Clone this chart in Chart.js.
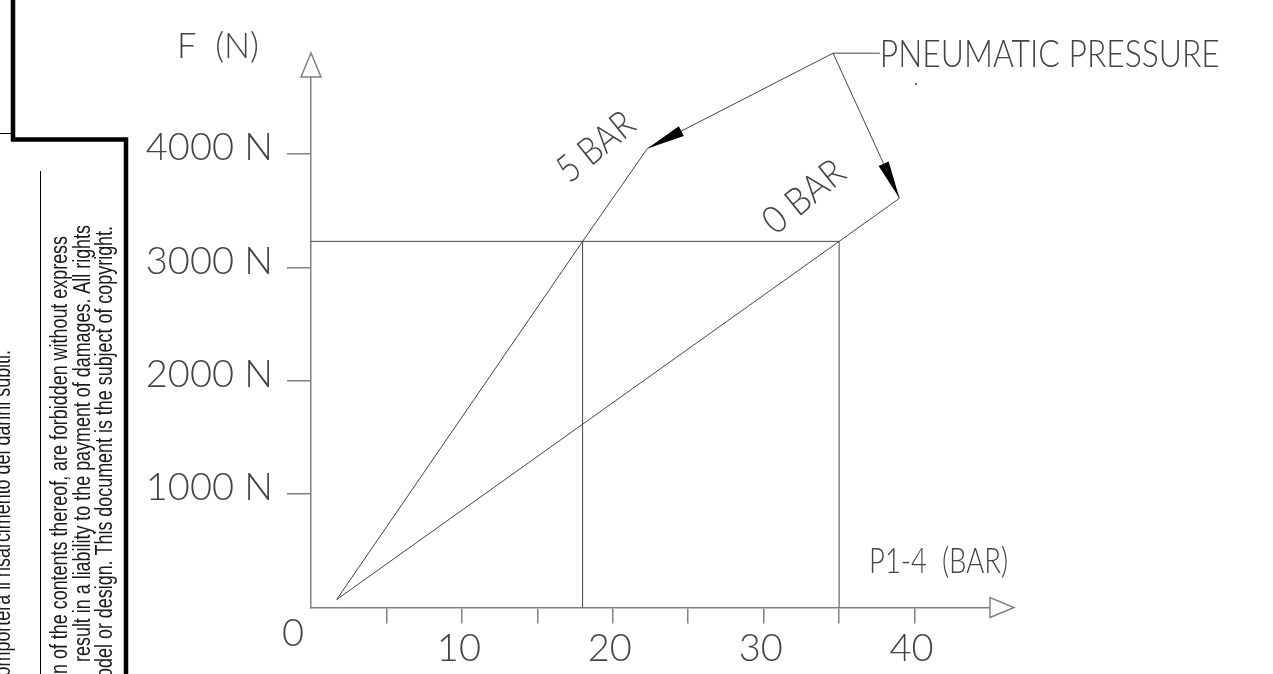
<!DOCTYPE html>
<html>
<head>
<meta charset="utf-8">
<script src="https://cdn.jsdelivr.net/npm/chart.js@4.4.1/dist/chart.umd.min.js"></script>
<style>
  html, body { margin: 0; padding: 0; background: #fff; }
</style>
</head>
<body>
<canvas id="forceChart" width="1273" height="674"></canvas>
<script>
// values
const forceTicks = [1000, 2000, 3000, 4000];           // N
const pressureTicks = [5, 10, 15, 20, 25, 30, 35, 40];  // bar
const pressureLabels = ['', '10', '', '20', '', '30', '', '40'];

const bar5P = [1.7, 18.0, 22.3];
const bar5F = [70, 3230, 4050];
const bar0P = [1.7, 35.0, 39.0];
const bar0F = [70, 3230, 3610];

const refForce = 3230;
const refPressure = [18.0, 35.0];

// leader for the PNEUMATIC PRESSURE note
const leaderP = [34.6, 37.7];
const leaderF = 4890;

const pMax = 45;
const fMax = 4680;

const ink = '#444';
const axisGrey = '#808080';
const cadFont = 'Lato, "DejaVu Sans", sans-serif';

const pts = (xs, ys) => xs.map((x, i) => ({ x: x, y: ys[i] }));

function lineSet(label, data, extra) {
  return Object.assign({
    label: label,
    data: data,
    showLine: true,
    borderColor: ink,
    borderWidth: 1,
    pointRadius: 0,
    tension: 0
  }, extra || {});
}

// stretch/squeeze a text to a given width (CAD fonts are narrow)
function squeezeText(c, str, x, y, w, angle) {
  const k = w ? w / c.measureText(str).width : 1;
  c.save();
  c.translate(x, y);
  if (angle) c.rotate(angle);
  c.scale(k, 1);
  c.fillText(str, 0, 0);
  c.restore();
}

function arrowHead(c, fromX, fromY, toX, toY, len, half) {
  const a = Math.atan2(toY - fromY, toX - fromX);
  c.save();
  c.translate(toX, toY);
  c.rotate(a);
  c.beginPath();
  c.moveTo(0, 0);
  c.lineTo(-len, -half);
  c.lineTo(-len, half);
  c.closePath();
  c.fill();
  c.restore();
}

const drawingPlugin = {
  id: 'drawing',
  afterDraw(chart) {
    const c = chart.ctx;
    const xs = chart.scales.x, ys = chart.scales.y;
    const x0 = xs.getPixelForValue(0), y0 = ys.getPixelForValue(0);
    const xEnd = xs.getPixelForValue(pMax), yEnd = ys.getPixelForValue(fMax);

    // open arrowheads on the axes
    c.save();
    c.strokeStyle = axisGrey;
    c.lineWidth = 1.5;
    c.fillStyle = '#fff';
    c.beginPath();
    c.moveTo(x0 - 10, yEnd);
    c.lineTo(x0 + 10, yEnd);
    c.lineTo(x0, yEnd - 24);
    c.closePath();
    c.fill(); c.stroke();
    c.beginPath();
    c.moveTo(xEnd, y0 - 10);
    c.lineTo(xEnd, y0 + 10);
    c.lineTo(xEnd + 24, y0);
    c.closePath();
    c.fill(); c.stroke();
    c.restore();

    // filled arrows of the note
    const cx = xs.getPixelForValue(leaderP[0]), cy = ys.getPixelForValue(leaderF);
    c.save();
    c.fillStyle = '#000';
    arrowHead(c, cx, cy, xs.getPixelForValue(bar5P[2]), ys.getPixelForValue(bar5F[2]), 38, 5.5);
    arrowHead(c, cx, cy, xs.getPixelForValue(bar0P[2]), ys.getPixelForValue(bar0F[2]), 38, 5.5);
    c.fillStyle = '#666';
    c.fillRect(915, 83, 2, 2);
    c.restore();

    // texts of the drawing
    c.save();
    c.fillStyle = ink;
    c.textBaseline = 'alphabetic';
    c.font = '300 35px ' + cadFont;
    c.textAlign = 'left';
    squeezeText(c, 'F  (N)', x0 - 134, yEnd - 19, 82);
    squeezeText(c, 'P1-4  (BAR)', xEnd - 121, y0 - 35, 139);
    c.font = '300 38px ' + cadFont;
    squeezeText(c, 'PNEUMATIC PRESSURE', xs.getPixelForValue(leaderP[1]), cy + 14, 340);
    c.textAlign = 'center';
    squeezeText(c, '0', x0 - 18, y0 + 38, 0);
    c.textBaseline = 'middle';
    const rot = -39 * Math.PI / 180;
    squeezeText(c, '5 BAR', 596, 147, 88, rot);
    squeezeText(c, '0 BAR', 804, 197, 94, rot);
    c.restore();

    // title block border on the left
    c.save();
    c.strokeStyle = '#000';
    c.lineWidth = 1;
    c.beginPath();
    c.moveTo(0, 133.5); c.lineTo(13, 133.5);
    c.moveTo(40.5, 171); c.lineTo(40.5, 674);
    c.stroke();
    c.lineWidth = 4.5;
    c.beginPath();
    c.moveTo(13, 0); c.lineTo(13, 139.5); c.lineTo(126, 139.5); c.lineTo(126, 680);
    c.stroke();

    c.fillStyle = '#1a1a1a';
    c.font = '23px "Liberation Sans Narrow", "Liberation Sans", sans-serif';
    c.textAlign = 'right';
    c.textBaseline = 'alphabetic';
    const ref = 'n of the contents thereof, are forbidden without express';
    const k = 438 / c.measureText(ref).width;
    const notes = [
      ['La riproduzione non autorizzata comporterà il risarcimento dei danni subiti.', 10, 350],
      ['communication of the contents thereof, are forbidden without express', 67, 236],
      ['result in a liability to the payment of damages. All rights', 90, 225],
      ['utility model or design. This document is the subject of copyright.', 112, 226]
    ];
    notes.forEach(n => {
      c.save();
      c.translate(n[1], n[2]);
      c.rotate(-Math.PI / 2);
      c.scale(k, 1);
      c.fillText(n[0], 0, 0);
      c.restore();
    });
    c.restore();
  }
};

const ctx = document.getElementById('forceChart').getContext('2d');
new Chart(ctx, {
  type: 'scatter',
  data: {
    datasets: [
      lineSet('5 BAR', pts(bar5P, bar5F)),
      lineSet('0 BAR', pts(bar0P, bar0F)),
      lineSet('ref force', [{ x: 0, y: refForce }, { x: refPressure[1], y: refForce }]),
      lineSet('ref 5 bar', [{ x: refPressure[0], y: 0 }, { x: refPressure[0], y: refForce }]),
      lineSet('ref 0 bar', [{ x: refPressure[1], y: 0 }, { x: refPressure[1], y: refForce }]),
      lineSet('note', [
        { x: bar5P[2], y: bar5F[2] },
        { x: leaderP[0], y: leaderF },
        { x: bar0P[2], y: bar0F[2] }
      ], { clip: false }),
      lineSet('note leader', pts(leaderP, [leaderF, leaderF]), { clip: false })
    ]
  },
  options: {
    responsive: false,
    animation: false,
    devicePixelRatio: 1,
    layout: { padding: { left: 0, right: 283, top: 77, bottom: 0 } },
    plugins: {
      legend: { display: false },
      tooltip: { enabled: false }
    },
    scales: {
      x: {
        type: 'linear',
        min: 0,
        max: pMax,
        afterFit: s => { s.height = 66.5; },
        afterBuildTicks: s => { s.ticks = pressureTicks.map(v => ({ value: v })); },
        border: { color: axisGrey, width: 1.5 },
        grid: { drawOnChartArea: false, tickLength: 16, color: axisGrey, lineWidth: 1.5 },
        ticks: {
          callback: (v, i) => pressureLabels[i],
          color: ink,
          font: { family: cadFont, size: 38, weight: 300 },
          padding: 2,
          labelOffset: -3,
          maxRotation: 0,
          autoSkip: false
        }
      },
      y: {
        type: 'linear',
        min: 0,
        max: fMax,
        afterFit: s => { s.width = 311; },
        afterBuildTicks: s => { s.ticks = forceTicks.map(v => ({ value: v })); },
        border: { color: axisGrey, width: 1.5 },
        grid: { drawOnChartArea: false, tickLength: 24, color: axisGrey, lineWidth: 1.5 },
        ticks: {
          callback: v => v + ' N',
          color: ink,
          font: { family: cadFont, size: 38, weight: 300 },
          padding: 14,
          labelOffset: -6,
          autoSkip: false
        }
      }
    }
  },
  plugins: [drawingPlugin]
});
</script>
</body>
</html>
